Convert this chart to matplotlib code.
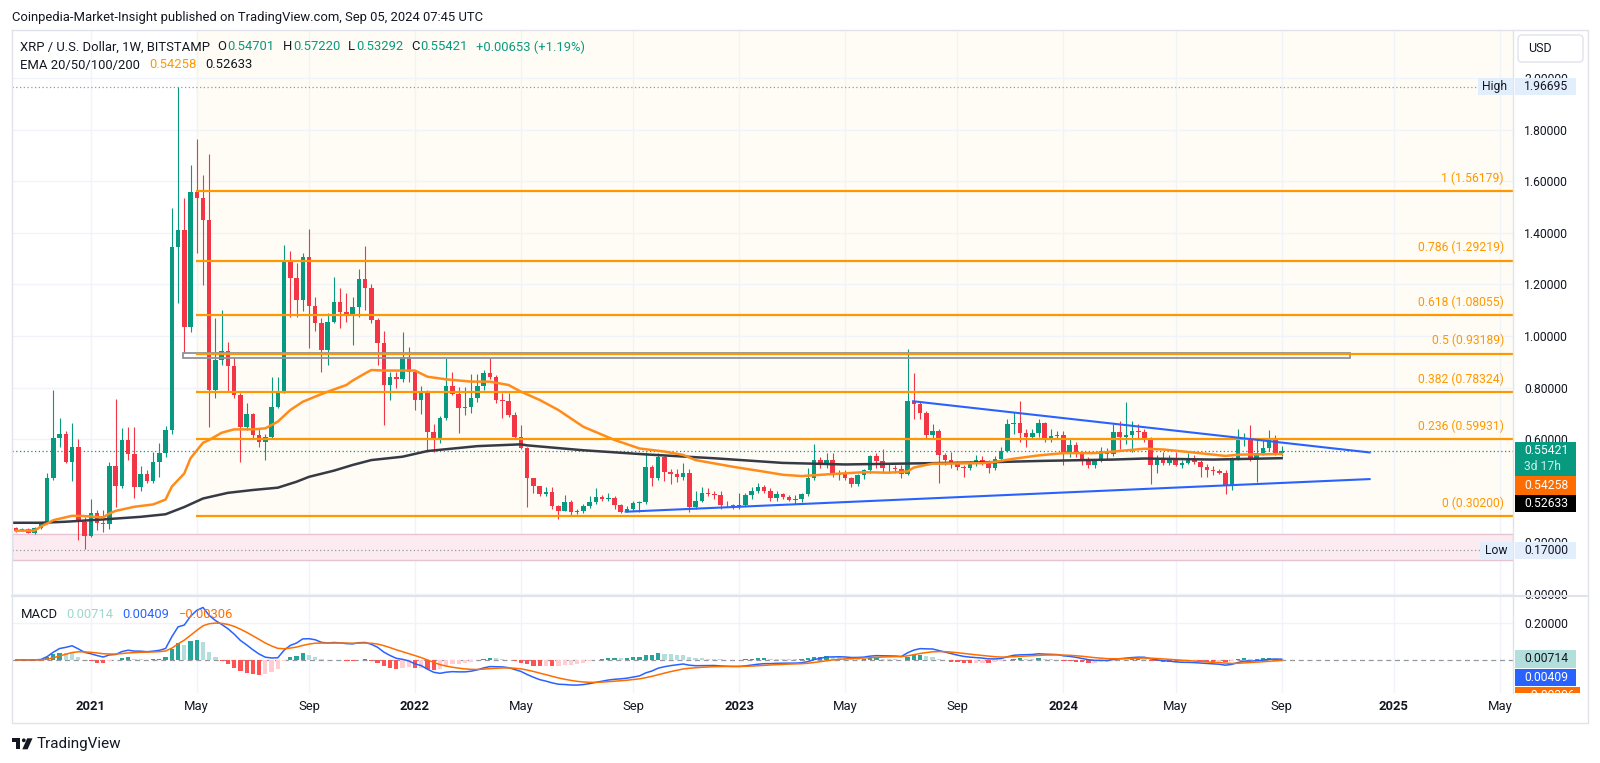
import numpy as np
import pandas as pd
import matplotlib.pyplot as plt
from matplotlib.patches import Rectangle, Polygon, Circle, FancyBboxPatch
from matplotlib.transforms import Bbox

plt.rcParams['font.family'] = ['Roboto', 'DejaVu Sans']

W, H = 1600, 763
DARK = '#131722'
UP, DOWN = '#089981', '#f23645'

# ------------------ XRP / USD weekly candles (Bitstamp) ------------------
first_bar = '2020-10-12'

opens = [
    .254, .246, .250, .238, .254, .274, .448, .603, .620, .513,
    .570, .280, .225, .312, .276, .272, .496, .418, .597, .542,
    .416, .465, .439, .513, .545, .635, 1.346, 1.410, 1.036, 1.559,
    1.533, 1.449, .790, .907, .943, .884, .771, .648, .697, .615,
    .590, .610, .726, .784, 1.288, 1.223, 1.139, 1.307, 1.116, 1.049,
    .945, 1.055, 1.133, 1.094, 1.081, 1.113, 1.219, 1.187, 1.062, .971,
    .810, .842, .832, .920, .860, .750, .780, .629, .599, .683,
    .806, .775, .720, .723, .761, .806, .858, .842, .752, .748,
    .694, .607, .564, .448, .418, .386, .396, .341, .323, .358,
    .319, .322, .341, .358, .377, .369, .373, .345, .319, .328,
    .354, .358, .491, .448, .532, .474, .465, .455, .470, .338,
    .361, .392, .388, .383, .345, .343, .342, .345, .383, .399,
    .413, .400, .373, .386, .377, .366, .370, .387, .448, .519,
    .500, .519, .461, .470, .448, .426, .461, .480, .534, .516,
    .487, .490, .483, .465, .747, .738, .702, .616, .630, .538,
    .519, .506, .493, .490, .509, .520, .510, .487, .525, .555,
    .658, .662, .622, .610, .622, .662, .605, .612, .615, .547,
    .577, .547, .519, .500, .519, .555, .542, .629, .610, .616,
    .632, .628, .600, .500, .525, .508, .528, .500, .509, .525,
    .510, .493, .480, .475, .470, .422, .525, .600, .602, .519,
    .547, .565, .600, .54701,
]
highs = [
    .258, .256, .256, .258, .280, .470, .790, .681, .630, .661,
    .600, .300, .370, .325, .325, .510, .754, .642, .648, .648,
    .496, .480, .551, .584, .650, 1.495, 1.966, 1.533, 1.663, 1.763,
    1.624, 1.704, 1.068, 1.100, .975, .920, .780, .739, .700, .640,
    .620, .842, .842, 1.352, 1.330, 1.284, 1.323, 1.413, 1.150, 1.070,
    1.088, 1.230, 1.185, 1.165, 1.152, 1.258, 1.349, 1.200, 1.070, 1.020,
    .860, .860, 1.017, .958, .870, .806, .790, .659, .690, .916,
    .862, .804, .804, .851, .853, .868, .913, .850, .778, .778,
    .707, .655, .570, .450, .420, .416, .416, .345, .384, .364,
    .330, .350, .380, .409, .385, .390, .380, .350, .340, .362,
    .362, .551, .500, .545, .535, .483, .483, .509, .483, .400,
    .413, .410, .400, .400, .360, .350, .392, .390, .413, .431,
    .422, .410, .400, .392, .385, .385, .392, .490, .583, .530,
    .545, .545, .480, .480, .455, .465, .485, .540, .545, .560,
    .505, .500, .500, .948, .855, .745, .710, .660, .640, .545,
    .550, .515, .500, .515, .540, .535, .520, .535, .570, .680,
    .706, .749, .640, .640, .680, .665, .640, .630, .630, .600,
    .590, .555, .530, .525, .570, .565, .660, .672, .745, .672,
    .660, .640, .610, .540, .550, .540, .550, .520, .545, .540,
    .520, .505, .495, .485, .480, .530, .638, .625, .655, .600,
    .600, .635, .615, .57220,
]
lows = [
    .242, .243, .236, .234, .250, .270, .440, .570, .506, .439,
    .209, .173, .222, .248, .241, .250, .338, .410, .520, .371,
    .400, .430, .430, .454, .530, .620, 1.126, .933, 1.017, 1.320,
    1.197, .648, .758, .887, .784, .760, .513, .635, .600, .570,
    .519, .600, .720, .780, 1.075, 1.075, 1.098, .952, 1.020, .861,
    .887, 1.049, 1.030, 1.055, .965, 1.075, 1.100, 1.049, .887, .655,
    .752, .800, .823, .820, .713, .697, .552, .552, .584, .674,
    .771, .623, .694, .703, .745, .791, .835, .740, .681, .687,
    .600, .561, .338, .390, .380, .380, .330, .289, .320, .302,
    .310, .315, .335, .350, .360, .360, .330, .315, .318, .320,
    .318, .350, .418, .440, .439, .426, .435, .440, .319, .330,
    .355, .380, .370, .330, .338, .330, .330, .340, .370, .390,
    .390, .360, .360, .370, .360, .350, .355, .380, .440, .490,
    .490, .455, .440, .440, .415, .420, .445, .470, .487, .470,
    .470, .470, .450, .460, .680, .680, .600, .600, .431, .500,
    .490, .480, .455, .480, .495, .500, .470, .480, .515, .550,
    .620, .590, .570, .600, .610, .590, .590, .600, .500, .530,
    .530, .500, .490, .490, .510, .520, .535, .560, .580, .550,
    .600, .590, .426, .470, .500, .500, .495, .490, .505, .505,
    .454, .454, .460, .465, .387, .403, .520, .575, .515, .435,
    .540, .555, .540, .53292,
]
closes = [
    .246, .250, .238, .254, .274, .448, .603, .620, .513, .570,
    .280, .225, .312, .276, .272, .496, .418, .597, .542, .416,
    .465, .439, .513, .545, .635, 1.346, 1.410, 1.036, 1.559, 1.533,
    1.449, .790, .907, .943, .884, .771, .648, .697, .615, .590,
    .610, .726, .784, 1.288, 1.223, 1.139, 1.307, 1.116, 1.049, .945,
    1.055, 1.133, 1.094, 1.081, 1.113, 1.219, 1.187, 1.062, .971, .810,
    .842, .832, .920, .860, .750, .780, .629, .599, .683, .806,
    .775, .720, .723, .761, .806, .858, .842, .752, .748, .694,
    .607, .564, .448, .418, .386, .396, .341, .323, .358, .319,
    .322, .341, .358, .377, .369, .373, .345, .319, .328, .354,
    .358, .491, .448, .532, .474, .465, .455, .470, .338, .361,
    .392, .388, .383, .345, .343, .342, .345, .383, .399, .413,
    .400, .373, .386, .377, .366, .370, .387, .448, .519, .500,
    .519, .461, .470, .448, .426, .461, .480, .534, .516, .487,
    .490, .483, .465, .747, .738, .702, .616, .630, .538, .519,
    .506, .493, .490, .509, .520, .510, .487, .525, .555, .658,
    .662, .622, .610, .622, .662, .605, .612, .615, .547, .577,
    .547, .519, .500, .519, .555, .542, .629, .610, .616, .632,
    .628, .600, .500, .525, .508, .528, .500, .509, .525, .510,
    .493, .480, .475, .470, .422, .525, .600, .602, .519, .547,
    .565, .600, .54768, .55421,
]

# EMA 50 (orange) and EMA 200 (black) at some bars
ema50_bar = [0, 3, 4, 6, 9, 11, 14, 15, 16, 19, 22, 24, 25, 27, 28, 30, 31, 33, 35, 38,
             40, 42, 44, 46, 48, 50, 53, 54, 56, 57, 59, 61, 64, 66, 69, 73, 76, 79, 81, 84,
             87, 91, 96, 100, 104, 107, 109, 115, 120, 123, 126, 131, 136, 140, 143, 144, 147, 155, 157, 160,
             164, 168, 173, 176, 181, 184, 189, 194, 196, 203]
ema50_val = [.245, .246, .261, .286, .303, .302, .297, .312, .322, .338, .347, .366, .416, .467, .526, .586, .597, .625, .638, .638,
             .642, .668, .713, .745, .765, .784, .810, .827, .855, .868, .866, .866, .866, .842, .832, .823, .823, .810, .784, .752,
             .713, .648, .597, .564, .552, .539, .519, .493, .474, .462, .457, .465, .472, .470, .475, .490, .505, .507, .512, .524,
             .537, .546, .546, .552, .563, .560, .548, .535, .540, .54258]
ema200_bar = [-1, 4, 8, 14, 20, 24, 27, 30, 34, 38, 42, 45, 47, 51, 54, 57, 62, 66, 74, 81,
              82, 91, 101, 112, 123, 133, 144, 155, 165, 176, 181, 192, 203]
ema200_val = [.276, .276, .280, .289, .299, .309, .337, .370, .392, .403, .412, .435, .454, .478, .500, .519, .532, .554, .573, .580,
              .576, .557, .541, .526, .508, .502, .506, .510, .516, .521, .525, .521, .52633]

# Fibonacci retracement
fib_ratios = [0, 0.236, 0.382, 0.5, 0.618, 0.786, 1]
fib_prices = [0.30200, 0.59931, 0.78324, 0.93189, 1.08055, 1.29219, 1.56179]
fib_start_bar = 28.8

# drawings
upper_trend_bar = [143.9, 217.1]
upper_trend_val = [0.747, 0.5486]
lower_trend_bar = [97.8, 217.1]
lower_trend_val = [0.3188, 0.4453]
range_box_bar = [26.8, 214.0]
range_box_val = [0.9158, 0.9326]
pink_zone_val = [0.132, 0.2326]

high_price, low_price = 1.96695, 0.17000
ema50_last, ema200_last = 0.54258, 0.52633
macd_hist_last, macd_last, signal_last = 0.00714, 0.00409, -0.00306
# 0.4 sits under the last-value boxes, so it is not labelled
price_ticks = [0.0, 0.2, 0.6, 0.8, 1.0, 1.2, 1.4, 1.6, 1.8, 2.0]

# ------------------ derived series ------------------
n = len(closes)
idx = np.arange(n)
o, h, l, c = map(np.array, (opens, highs, lows, closes))
up = c >= o

# MACD(12, 26, 9) from the weekly closes
cs = pd.Series(c)
macd = cs.ewm(span=12, adjust=False).mean() - cs.ewm(span=26, adjust=False).mean()
signal = macd.ewm(span=9, adjust=False).mean()
hist = (macd - signal).values
prev = np.r_[hist[0], hist[:-1]]
hist_col = np.where(hist >= 0,
                    np.where(hist >= prev, '#26a69a', '#b2dfdb'),
                    np.where(hist <= prev, '#ff5252', '#ffcdd2'))

# time axis: one slot per weekly bar, grid at the first bar of Jan / May / Sep
all_weeks = pd.date_range(first_bar, '2025-06-30', freq='W-MON')
month_starts = pd.date_range('2021-01-01', '2025-05-01', freq='4MS')
tick_pos = [int(np.searchsorted(all_weeks, m)) for m in month_starts]
tick_lab = [str(m.year) if m.month == 1 else m.strftime('%b') for m in month_starts]
x_lo, x_hi = -0.63, 240.1

# ------------------ figure ------------------
fig = plt.figure(figsize=(W / 100, H / 100), dpi=100)
fig.patch.set_facecolor('white')


def frac(x0, y0, x1, y1):
    return [x0 / W, 1 - y1 / H, (x1 - x0) / W, (y1 - y0) / H]


ax = fig.add_axes(frac(12, 30, 1513, 595))
axm = fig.add_axes(frac(12, 597, 1513, 693))

# ---- price pane
ax.set_xlim(x_lo, x_hi)
ax.set_ylim(-0.004, 2.186)
ax.set_yticks(price_ticks, labels=[f'{v:.5f}' for v in price_ticks])
ax.yaxis.tick_right()
ax.tick_params(axis='y', length=0, pad=8, labelsize=8.7, labelcolor=DARK)
ax.set_xticks(tick_pos)
ax.tick_params(axis='x', length=0, labelbottom=False)
ax.grid(True, color='#f0f3fa', lw=1)
ax.set_axisbelow(True)
for s in ax.spines.values():
    s.set_visible(False)

ax.fill_between([fib_start_bar, x_hi + 5], fib_prices[0], 2.5, color='#fffcf5', lw=0, zorder=0.1)
ax.axhspan(pink_zone_val[0], pink_zone_val[1], facecolor='#fcecf1', edgecolor='#e6c3d0', lw=1, zorder=0.6)

ax.axhline(high_price, color='#9598a1', lw=0.9, ls=(0, (1, 2)), zorder=1)
ax.axhline(low_price, color='#9598a1', lw=0.9, ls=(0, (1, 2)), zorder=1)
ax.axhline(closes[-1], color=UP, lw=0.9, ls=(0, (1, 2)), zorder=1)

ax.add_patch(Rectangle((range_box_bar[0], range_box_val[0]), range_box_bar[1] - range_box_bar[0],
                       range_box_val[1] - range_box_val[0], fill=False, ec='#8f929b', lw=1.3, zorder=4))

# candles
cols = np.where(up, UP, DOWN)
ax.vlines(idx, l, h, colors=cols, lw=0.8, zorder=2)
body_lo = np.minimum(o, c)
body_h = np.maximum(np.abs(c - o), 0.003)
ax.bar(idx, body_h, bottom=body_lo, width=0.72, color=cols, lw=0, zorder=3)

ax.plot(ema200_bar, ema200_val, color='#363a45', lw=1.8, zorder=4)
ax.plot(ema50_bar, ema50_val, color='#ff8c1a', lw=1.8, zorder=4)

ax.hlines(fib_prices, fib_start_bar, x_hi + 5, color='#ff9800', lw=1.6, zorder=5)
for r, p in zip(fib_ratios, fib_prices):
    ax.annotate(f'{r:g} ({p:.5f})', xy=(1, p), xycoords=('axes fraction', 'data'),
                xytext=(-6.5, 6.7), textcoords='offset points', ha='right', va='baseline',
                color='#ff9800', fontsize=8.7, zorder=6)

ax.plot(upper_trend_bar, upper_trend_val, color='#2962ff', lw=1.5, zorder=5)
ax.plot(lower_trend_bar, lower_trend_val, color='#2962ff', lw=1.5, zorder=5)

# ---- MACD pane
axm.set_xlim(x_lo, x_hi)
axm.set_ylim(-0.18, 0.343)
axm.set_yticks([0.2], labels=['0.20000'])
axm.yaxis.tick_right()
axm.tick_params(axis='y', length=0, pad=8, labelsize=8.7, labelcolor=DARK)
axm.set_xticks(tick_pos, labels=tick_lab)
axm.tick_params(axis='x', length=0, pad=5, labelsize=9.4, labelcolor=DARK)
for t, lab in zip(axm.get_xticklabels(), tick_lab):
    if lab.isdigit():
        t.set_fontweight('bold')
axm.grid(True, color='#f0f3fa', lw=1)
axm.set_axisbelow(True)
for s in axm.spines.values():
    s.set_visible(False)
axm.axhline(0, color='#9598a1', lw=0.9, ls=(0, (4, 3)), zorder=1)
axm.bar(idx, hist, width=0.68, color=hist_col, lw=0, zorder=2)
axm.plot(idx, macd, color='#2962ff', lw=1.1, zorder=3)
axm.plot(idx, signal, color='#ff6d00', lw=1.1, zorder=3)

# ------------------ overlay: frame, labels, value boxes ------------------
axo = fig.add_axes([0, 0, 1, 1])
axo.set_xlim(0, W)
axo.set_ylim(H, 0)
axo.axis('off')
axo.patch.set_alpha(0)


def ypx(a, v):
    return H - a.transData.transform((0, v))[1]


axo.plot([12, 1588, 1588, 12, 12], [30, 30, 723, 723, 30], color='#e0e3eb', lw=1)
axo.plot([1513, 1513], [30, 693], color='#e0e3eb', lw=1)
axo.plot([12, 1588], [596, 596], color='#e0e3eb', lw=1.5)

axo.text(12, 17, 'Coinpedia-Market-Insight published on TradingView.com, Sep 05, 2024 07:45 UTC',
         fontsize=9.4, color=DARK, va='center')

renderer = fig.canvas.get_renderer()


def chain(x, y, parts, size=9.4):
    for gap, s, col in parts:
        x += gap
        t = axo.text(x, y, s, color=col, fontsize=size, va='center', ha='left')
        x += t.get_window_extent(renderer).width


chg = closes[-1] - closes[-2]
pct = chg / closes[-2] * 100
chain(20.5, 47, [(0, 'XRP / U.S. Dollar, 1W, BITSTAMP', DARK),
                 (7, 'O', DARK), (1, f'{opens[-1]:.5f}', UP),
                 (8, 'H', DARK), (1, f'{highs[-1]:.5f}', UP),
                 (8, 'L', DARK), (1, f'{lows[-1]:.5f}', UP),
                 (8, 'C', DARK), (1, f'{closes[-1]:.5f}', UP),
                 (8, f'{chg:+.5f} ({pct:+.2f}%)', UP)])
chain(20.5, 65, [(0, 'EMA 20/50/100/200', DARK), (9, f'{ema50_last:.5f}', '#ff9800'),
                 (9, f'{ema200_last:.5f}', DARK)])
chain(20.5, 615, [(0, 'MACD', DARK), (9, f'{macd_hist_last:.5f}', '#9fd6d0'),
                  (9, f'{macd_last:.5f}', '#2962ff'),
                  (9, f'{signal_last:.5f}'.replace('-', '\u2212'), '#ff6d00')])


def box(x0, x1, top, hgt, fc, text, tc, tx=1524, clip=None):
    r = Rectangle((x0, top), x1 - x0, hgt, facecolor=fc, edgecolor='none', zorder=5)
    t = axo.text(tx, top + hgt / 2, text, color=tc, fontsize=8.7, va='center', ha='left', zorder=6)
    axo.add_patch(r)
    if clip is not None:
        r.set_clip_box(clip)
        t.set_clip_box(clip)


axo.add_patch(FancyBboxPatch((1518, 35), 65, 27, boxstyle='round,pad=0,rounding_size=4',
                             ec='#e0e3eb', fc='white', lw=1, zorder=5))
axo.text(1528, 48.5, 'USD', fontsize=9, color=DARK, va='center', zorder=6)

yh = ypx(ax, high_price)
box(1478, 1513, yh - 8.5, 17, '#e3eefc', 'High', DARK, tx=1482)
box(1515, 1576, yh - 8.5, 17, '#e3eefc', f'{high_price:.5f}', DARK)
yl = ypx(ax, low_price)
box(1480, 1513, yl - 8.5, 17, '#e3eefc', 'Low', DARK, tx=1485)
box(1515, 1576, yl - 8.5, 17, '#e3eefc', f'{low_price:.5f}', DARK)

yc = ypx(ax, closes[-1])
axo.add_patch(Rectangle((1515, yc - 8.7), 61, 33.3, facecolor=UP, edgecolor='none', zorder=5))
axo.text(1524, yc, f'{closes[-1]:.5f}', color='white', fontsize=8.7, va='center', zorder=6)
axo.text(1524, yc + 15.3, '3d 17h', color='#cdeee8', fontsize=8.7, va='center', zorder=6)
box(1515, 1576, yc + 25.3, 18.3, '#ff6d00', f'{ema50_last:.5f}', 'white')
box(1515, 1576, yc + 44.3, 17, '#000000', f'{ema200_last:.5f}', 'white')

ym = ypx(axm, macd_hist_last)
macd_clip = Bbox.from_extents(1500, H - 693, 1600, H - 597)
box(1515, 1576, ym - 9, 18.3, '#b2dfdb', f'{macd_hist_last:.5f}', DARK)
box(1515, 1576, ym + 10, 17.4, '#2962ff', f'{macd_last:.5f}', 'white')
box(1515, 1580, ym + 28.2, 18, '#ff6d00', f'{signal_last:.5f}'.replace('-', '\u2212'), 'white',
    clip=macd_clip)

# TradingView mark
axo.add_patch(Polygon([(11.7, 738.3), (20, 738.3), (20, 749.3), (16.3, 749.3), (16.3, 742), (11.7, 742)],
                      closed=True, fc=DARK, ec='none'))
axo.add_patch(Circle((23.8, 740.3), 1.9, fc=DARK, ec='none'))
axo.add_patch(Polygon([(27.2, 738.3), (32.5, 738.3), (27.6, 749.3), (22.3, 749.3)], closed=True, fc=DARK, ec='none'))
axo.text(37, 744, 'TradingView', fontsize=11, color=DARK, va='center')

fig.savefig('out.png', dpi=100)
